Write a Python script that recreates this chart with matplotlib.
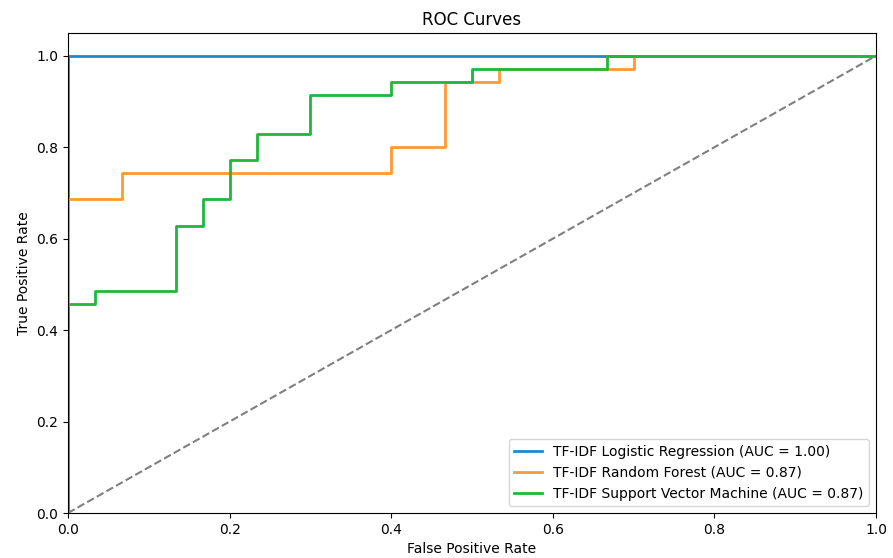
import numpy as np
import matplotlib
matplotlib.use("Agg")
import matplotlib.pyplot as plt

# ROC points (30 negatives, 35 positives in test set)
lr_fpr = [0.0, 0.0, 1.0]
lr_tpr = [0.0, 1.0, 1.0]

rf_fpr = [0.0, 0.0, 2/30, 2/30, 12/30, 12/30, 14/30, 14/30, 16/30, 16/30, 21/30, 21/30, 1.0]
rf_tpr = [0.0, 24/35, 24/35, 26/35, 26/35, 28/35, 28/35, 33/35, 33/35, 34/35, 34/35, 1.0, 1.0]

svm_fpr = [0.0, 0.0, 1/30, 1/30, 4/30, 4/30, 5/30, 5/30, 6/30, 6/30, 7/30, 7/30,
           9/30, 9/30, 12/30, 12/30, 15/30, 15/30, 20/30, 20/30, 1.0]
svm_tpr = [0.0, 16/35, 16/35, 17/35, 17/35, 22/35, 22/35, 24/35, 24/35, 27/35, 27/35, 29/35,
           29/35, 32/35, 32/35, 33/35, 33/35, 34/35, 34/35, 1.0, 1.0]

labels = ["TF-IDF Logistic Regression (AUC = 1.00)",
          "TF-IDF Random Forest (AUC = 0.87)",
          "TF-IDF Support Vector Machine (AUC = 0.87)"]
colors = ["#1a8ad4", "#ff9933", "#1db83c"]

fig = plt.figure(figsize=(8.93, 5.58), dpi=100)
ax = fig.add_axes([0.0761, 0.0806, 0.9049, 0.8604])

ax.plot(lr_fpr, lr_tpr, color=colors[0], lw=2, label=labels[0])
ax.plot(rf_fpr, rf_tpr, color=colors[1], lw=2, label=labels[1])
ax.plot(svm_fpr, svm_tpr, color=colors[2], lw=2, label=labels[2])
ax.plot([0, 1], [0, 1], color="gray", lw=1.5, linestyle="--")

ax.set_xlim(0.0, 1.0)
ax.set_ylim(0.0, 1.05)
ax.set_xlabel("False Positive Rate")
ax.set_ylabel("True Positive Rate")
ax.set_title("ROC Curves")
ax.legend(loc="lower right")

fig.savefig("out.png", dpi=100)
